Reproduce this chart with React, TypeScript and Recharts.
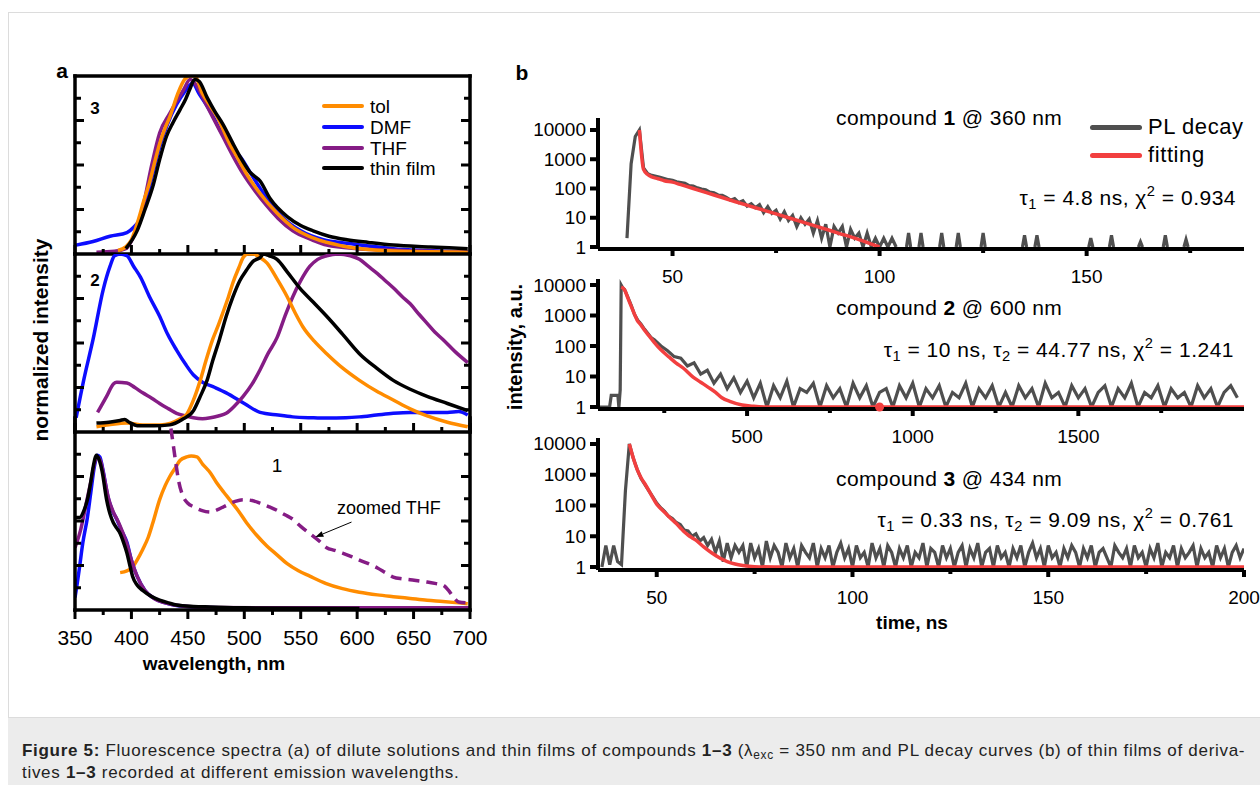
import React from "react";
import { LineChart, Line, XAxis, YAxis, ReferenceLine, ReferenceDot } from "recharts";

const FONT = '"Liberation Sans", Arial, Helvetica, sans-serif';
const ORANGE = "#ff8c00";
const BLUE = "#0d0dff";
const PURPLE = "#851c85";
const BLACK = "#000000";
const GRAY = "#4f4f4f";
const RED = "#f23f3f";

type Pair = [number, number];

// ---------- panel a: fluorescence spectra ----------
const wlTicks = [350, 375, 400, 425, 450, 475, 500, 525, 550, 575, 600, 625, 650, 675, 700];
const wlMajor = [350, 400, 450, 500, 550, 600, 650, 700];
const normTicks = [0.125, 0.25, 0.375, 0.5, 0.625, 0.75, 0.875];
const normMajor = [0.25, 0.5, 0.75];

// compound 3
const tol3: Pair[] = [[388,.02],[395,.04],[400,.08],[406,.19],[411,.30],[416,.40],[420,.50],[425,.62],[430,.71],[434,.77],[441,.90],[447,.98],[452,1.0],[456,1.0],[463,.9],[470,.83],[476,.77],[487,.62],[495,.53],[502,.45],[514,.34],[529,.23],[543,.15],[561,.09],[587,.045],[610,.025],[632,.017],[665,.012],[698,.01]];
const dmf3: Pair[] = [[351,.05],[366,.07],[381,.10],[396,.12],[402,.15],[407,.19],[412,.28],[419,.45],[425,.6],[432,.73],[440,.84],[447,.91],[452,.95],[454,.96],[460,.9],[470,.8],[480,.68],[490,.58],[496,.55],[505,.46],[514,.37],[523,.29],[535,.2],[550,.13],[570,.08],[591,.06],[610,.045],[632,.03],[660,.02],[698,.012]];
const thf3: Pair[] = [[369,.01],[385,.015],[395,.03],[402,.1],[410,.26],[418,.5],[425,.68],[434,.79],[446,.92],[452,.98],[456,.96],[467,.83],[481,.66],[490,.55],[499,.45],[510,.35],[520,.27],[530,.2],[543,.13],[560,.08],[573,.05],[600,.03],[640,.02],[698,.012]];
const film3: Pair[] = [[395,.03],[405,.13],[412,.25],[419,.38],[425,.53],[431,.66],[437,.74],[443,.81],[448,.87],[452,.93],[456,.98],[460,.97],[467,.88],[474,.80],[481,.73],[490,.62],[496,.55],[505,.46],[514,.41],[523,.31],[538,.21],[550,.16],[561,.13],[575,.1],[591,.08],[610,.065],[632,.05],[665,.04],[698,.03]];

// compound 2
const dmf2: Pair[] = [[351,.08],[358,.3],[366,.52],[375,.80],[381,.93],[385,.99],[390,1.0],[396,.99],[402,.93],[408,.87],[416,.76],[425,.65],[432,.55],[440,.46],[448,.38],[455,.32],[463,.28],[474,.25],[484,.22],[500,.16],[514,.11],[530,.095],[543,.085],[560,.08],[573,.078],[590,.08],[602,.085],[617,.095],[632,.105],[647,.11],[662,.11],[680,.11],[690,.115],[698,.095]];
const thf2: Pair[] = [[370,.11],[378,.20],[384,.27],[387,.28],[396,.275],[403,.25],[410,.22],[418,.19],[425,.16],[433,.13],[440,.105],[448,.09],[455,.08],[463,.075],[470,.08],[477,.09],[484,.105],[492,.15],[499,.2],[507,.27],[514,.35],[521,.44],[529,.53],[536,.65],[543,.76],[550,.85],[558,.93],[565,.97],[573,.99],[583,1.0],[594,.99],[602,.97],[610,.93],[618,.89],[625,.85],[632,.81],[640,.76],[647,.72],[655,.66],[662,.61],[669,.56],[676,.52],[687,.45],[698,.39]];
const tol2: Pair[] = [[369,.03],[380,.04],[396,.05],[410,.04],[425,.04],[435,.05],[442,.07],[449,.1],[455,.18],[461,.29],[466,.4],[472,.52],[477,.6],[481,.67],[486,.76],[490,.84],[495,.92],[499,.98],[503,1.0],[508,1.0],[514,.98],[520,.95],[529,.86],[538,.76],[545,.67],[552,.59],[562,.51],[573,.44],[587,.36],[602,.29],[617,.23],[632,.18],[647,.13],[662,.09],[680,.055],[698,.03]];
const film2: Pair[] = [[369,.05],[380,.055],[390,.065],[394,.07],[398,.055],[405,.035],[420,.035],[434,.04],[445,.07],[455,.12],[461,.2],[467,.29],[472,.4],[478,.52],[484,.65],[490,.76],[496,.85],[502,.91],[508,.96],[514,.98],[517,1.0],[522,.99],[529,.97],[538,.9],[549,.81],[561,.73],[573,.65],[587,.55],[602,.44],[617,.36],[632,.29],[647,.24],[662,.2],[680,.16],[698,.12]];

// compound 1
const film1: Pair[] = [[350,.52],[354,.52],[358,.56],[361,.62],[364,.72],[366,.80],[369,.87],[371,.85],[374,.78],[378,.62],[381,.54],[384,.49],[387,.46],[390,.43],[393,.38],[396,.32],[399,.24],[401,.19],[405,.14],[410,.11],[418,.075],[425,.056],[433,.04],[440,.028],[455,.02],[470,.017],[500,.012],[550,.01],[602,.008]];
const dmf1: Pair[] = [[350,.07],[352,.15],[354,.24],[357,.38],[361,.52],[364,.66],[367,.8],[370,.87],[372,.86],[375,.78],[379,.64],[383,.56],[387,.51],[391,.45],[396,.38],[400,.28],[405,.19],[412,.11],[419,.07],[430,.04],[440,.025],[460,.015],[500,.01],[600,.008],[700,.006]];
const thf1: Pair[] = [[350,.35],[355,.45],[360,.6],[364,.72],[368,.84],[370,.86],[373,.83],[376,.74],[380,.62],[384,.55],[388,.5],[392,.44],[396,.37],[400,.28],[405,.19],[412,.11],[420,.065],[430,.04],[445,.022],[470,.014],[520,.012],[600,.012],[650,.012],[700,.012]];
const tol1: Pair[] = [[390,.21],[396,.22],[401,.24],[405,.28],[410,.34],[415,.41],[419,.49],[425,.62],[430,.70],[434,.75],[439,.8],[443,.84],[449,.86],[453,.865],[458,.86],[463,.82],[470,.77],[476,.71],[482,.66],[487,.62],[495,.555],[502,.49],[511,.42],[520,.36],[529,.31],[538,.26],[548,.22],[558,.19],[572,.15],[587,.12],[602,.1],[618,.085],[632,.075],[647,.065],[662,.055],[676,.048],[690,.04],[698,.035]];
const thfZoom1: Pair[] = [[435,1.02],[437,.93],[439,.84],[442,.72],[446,.635],[450,.6],[455,.58],[462,.56],[470,.55],[477,.565],[485,.59],[492,.61],[499,.62],[507,.615],[514,.60],[522,.58],[529,.56],[536,.535],[543,.51],[550,.47],[558,.43],[566,.39],[573,.35],[580,.335],[587,.32],[595,.3],[602,.28],[610,.26],[618,.236],[625,.21],[632,.185],[640,.175],[647,.17],[655,.163],[662,.157],[670,.148],[676,.14],[681,.11],[685,.075],[690,.045],[698,.04]];
const zoomArrow: Pair[] = [[595, 0.494], [563, 0.41]];

// ---------- panel b: PL decay ----------
const decades = [1, 10, 100, 1000, 10000];

// compound 1 @ 360 nm
const pl1T = range(39, 104, 1);
const pl1V = [
  2, 700, 6000, 10000, 500, 320, 280, 260, 240, 220, 200,
  190, 170, 160, 150, 125, 120, 105, 95, 90, 75,
  72, 60, 58, 50, 40, 45, 33, 38, 25, 30,
  22, 28, 15, 24, 14, 18, 9, 16, 8, 12,
  5, 10, 6, 9, 3, 8, 2, 6, 1, 5,
  3, 5, 1, 4, 2, 3, 1, 3, 1, 2,
  1, 2, 1, 2, 1,
];
// isolated counts above the baseline after 105 ns
const pl1SpikeT = [107, 110, 115, 119, 125, 135, 138, 151, 156, 163, 169, 174];
const pl1SpikeV = [3, 3, 3, 3, 3, 2.5, 2.5, 2, 2.5, 1.5, 2.5, 1.8];
const fit1T = [42, 43, 44, 45, 46, 47, 48, 50, 52, 55, 60, 65, 70, 75, 80, 85, 90, 95, 100];
const fit1V = [10000, 450, 300, 250, 225, 205, 185, 165, 135, 100, 60, 36, 22, 13.5, 8.2, 5, 3, 1.8, 1];
const t1Ticks = [50, 75, 100, 125, 150, 175];
const t1Major = [50, 100, 150];

// compound 2 @ 600 nm
const pl2T = [50, 85, 90, 110, 113, 117, 120, 125, 130, 140, 150, 160, 170, 180, 190, 200, 210, 220, 240, 260, 280, 300, 320, 340, 360, 380, 400, 420, 440, 460, 480, 500, ...range(520, 1980, 20)];
const pl2V = [
  1, 1, 2.4, 2.4, 1, 3.6, 10000,
  8000, 7200, 4000, 2200, 1100, 700, 520, 360, 260, 190,
  160, 100, 70, 45, 40, 22, 28, 12, 16, 6,
  12, 4, 9, 3, 7,
  2, 6, 1, 5, 2, 7, 1, 4, 3, 6,
  1, 5, 2, 4, 1, 6, 2, 5, 1, 3,
  4, 1, 5, 2, 6, 1, 4, 2, 5, 1,
  3, 2, 6, 1, 4, 2, 5, 1, 3, 1,
  5, 2, 4, 1, 6, 2, 3, 1, 5, 2,
  4, 1, 3, 5, 1, 4, 2, 6, 1, 3,
  2, 5, 1, 4, 2, 3, 1, 5, 2, 4,
  1, 3, 5, 2,
];
const fit2T = [120, 130, 140, 146, 155, 168, 180, 190, 205, 219, 240, 265, 285, 307, 337, 360, 382, 405, 424, 450, 485, 520, 560, 2000];
const fit2V = [8500, 7000, 3800, 2600, 1500, 710, 480, 335, 210, 135, 75, 43, 28, 19, 9.6, 6.5, 4.5, 3, 2, 1.5, 1.16, 1.05, 1, 1];
const fit2Mark = { t: 900, v: 1 };
const t2Ticks = [250, 500, 750, 1000, 1250, 1500, 1750];
const t2Major = [500, 1000, 1500];

// compound 3 @ 434 nm
const pl3T = range(36, 200, 1);
const pl3V = [
  1, 5, 1.2, 5, 1.5, 1.2, 300,
  10000, 3500, 1500, 750, 480, 300, 190, 120, 85, 65,
  45, 38, 28, 24, 16, 15, 10, 12, 7, 9,
  5, 8, 3, 7, 1.5, 6, 2, 5,
  3, 5, 1, 6, 2, 4, 1, 7, 2, 5,
  3, 1, 6, 2, 4, 1, 5, 3, 2, 6,
  1, 4, 2, 5, 1, 3, 6, 2, 4, 1,
  5, 2, 3, 1, 6, 2, 4, 1, 5, 3,
  1, 4, 2, 5, 1, 3, 2, 6, 1, 4,
  3, 1, 5, 2, 4, 1, 3, 5, 1, 4,
  2, 6, 1, 3, 4, 1, 5, 2, 3, 1,
  4, 2, 5, 1, 3, 6, 2, 4, 1, 5,
  2, 3, 1, 4, 2, 5, 3, 1, 4, 2,
  5, 1, 3, 4, 2, 1, 5, 3, 2, 4,
  1, 5, 2, 3, 1, 4, 2, 6, 1, 3,
  2, 5, 1, 4, 2, 3, 5, 1, 4, 2,
  3, 1, 5, 2, 4, 1, 3, 5, 2, 4,
];
const fit3T = [43, 44, 45, 46, 47, 48, 49, 50, 51, 52, 53, 54, 55, 56, 57, 58, 59, 60, 62, 64, 66, 68, 70, 72, 75, 80, 200];
const fit3V = [10000, 3500, 1500, 800, 500, 305, 180, 110, 80, 60, 45, 34, 26, 19, 14, 11, 9, 7.5, 4.5, 2.9, 2, 1.5, 1.25, 1.12, 1.03, 1, 1];
const t3Ticks = [50, 75, 100, 125, 150, 175, 200];
const t3Major = [50, 100, 150, 200];

function range(a: number, b: number, s: number) {
  const out: number[] = [];
  for (let v = a; v <= b + 1e-9; v += s) out.push(v);
  return out;
}
type Pt = { x: number; y: number | null };
const toPts = (p: Pair[]) => p.map(([x, y]) => ({ x, y }));
const zip = (xs: number[], ys: (number | null)[]): Pt[] =>
  xs.slice(0, Math.min(xs.length, ys.length)).map((x, i) => ({ x, y: ys[i] }));
// narrow spikes rising from the 1-count baseline, separated by gaps
const spikes = (ts: number[], vs: number[]): Pt[] =>
  ts.flatMap((t, i) => [
    { x: t - 0.6, y: null },
    { x: t - 0.5, y: 1 },
    { x: t, y: vs[i] },
    { x: t + 0.5, y: 1 },
  ]);

// ---------- tick drawing ----------
type Side = "top" | "bottom" | "left" | "right";
interface TickStyle {
  side: Side;
  inward: boolean;
  major: number[];
  majorLen: number;
  minorLen: number;
  width: number;
  label?: boolean;
  gap?: number;
  fontSize?: number;
}
function tickRenderer(s: TickStyle) {
  return (props: any) => {
    const { x, y, payload } = props;
    const v = payload.value as number;
    const isMajor = s.major.some((m) => Math.abs(m - v) < 1e-9);
    const len = isMajor ? s.majorLen : s.minorLen;
    const d = s.inward ? -1 : 1;
    let x2 = x;
    let y2 = y;
    if (s.side === "top") y2 = y - d * len;
    if (s.side === "bottom") y2 = y + d * len;
    if (s.side === "left") x2 = x - d * len;
    if (s.side === "right") x2 = x + d * len;
    let text = null;
    if (s.label && isMajor) {
      const g = s.gap ?? 0;
      const common = { fontFamily: FONT, fontSize: s.fontSize ?? 18, fill: "#000", dominantBaseline: "central" as const };
      if (s.side === "bottom") text = <text x={x} y={y + g} textAnchor="middle" {...common}>{v}</text>;
      if (s.side === "left") text = <text x={x - g} y={y} textAnchor="end" {...common}>{v}</text>;
    }
    return (
      <g>
        <line x1={x} y1={y} x2={x2} y2={y2} stroke="#000" strokeWidth={s.width} />
        {text}
      </g>
    );
  };
}

const frameLine = { stroke: "#000", strokeWidth: 3.5, strokeLinecap: "square" as const };
const aTopTick = tickRenderer({ side: "top", inward: true, major: wlMajor, majorLen: 9, minorLen: 5, width: 3 });
const aBotIn = tickRenderer({ side: "bottom", inward: true, major: wlMajor, majorLen: 9, minorLen: 5, width: 3 });
const aBotOut = tickRenderer({ side: "bottom", inward: false, major: wlMajor, majorLen: 9, minorLen: 5, width: 3, label: true, gap: 27, fontSize: 21 });
const aLeftTick = tickRenderer({ side: "left", inward: true, major: normMajor, majorLen: 9, minorLen: 6, width: 3 });
const aRightTick = tickRenderer({ side: "right", inward: true, major: normMajor, majorLen: 9, minorLen: 6, width: 3 });

// ---------- panel a geometry ----------
const A_LEFT = 75;
const A_W = 395;
const A_PH = 178;

interface SpecLine { pts: Pair[]; color: string; dash?: string }

function SpectrumPanel(props: {
  plotTop: number;
  plotH: number;
  lines: SpecLine[];
  top?: boolean;
  last?: boolean;
  children?: React.ReactNode;
}) {
  const { plotTop, plotH, lines, top, last, children } = props;
  const padL = 40, padR = 20, padT = 20, padB = last ? 50 : 20;
  const yMax = plotH / A_PH;
  return (
    <div style={{ position: "absolute", left: A_LEFT - padL, top: plotTop - padT }}>
      <LineChart width={A_W + padL + padR} height={plotH + padT + padB} margin={{ top: padT, right: padR, bottom: padB, left: padL }}>
        <XAxis xAxisId="b" type="number" dataKey="x" domain={[350, 700]} allowDataOverflow ticks={wlTicks} interval={0}
          mirror tickSize={0} tickMargin={0} tickLine={false} tick={last ? aBotOut : aBotIn} axisLine={frameLine} />
        {top && (
          <XAxis xAxisId="t" orientation="top" type="number" domain={[350, 700]} allowDataOverflow ticks={wlTicks} interval={0}
            mirror tickSize={0} tickMargin={0} tickLine={false} tick={aTopTick} axisLine={frameLine} />
        )}
        <YAxis yAxisId="l" type="number" domain={[0, yMax]} allowDataOverflow ticks={normTicks} interval={0}
          mirror tickSize={0} tickMargin={0} tickLine={false} tick={aLeftTick} axisLine={frameLine} />
        <YAxis yAxisId="r" orientation="right" type="number" domain={[0, yMax]} allowDataOverflow ticks={normTicks} interval={0}
          mirror tickSize={0} tickMargin={0} tickLine={false} tick={aRightTick} axisLine={frameLine} />
        {lines.map((l, i) => (
          <Line key={i} xAxisId="b" yAxisId="l" data={toPts(l.pts)} dataKey="y" type="monotone" stroke={l.color}
            strokeWidth={3.5} strokeDasharray={l.dash} dot={false} isAnimationActive={false} />
        ))}
        {children}
      </LineChart>
    </div>
  );
}

const arrowShape = (p: any) => {
  const { x1, y1, x2, y2 } = p;
  const ang = Math.atan2(y2 - y1, x2 - x1);
  const L = 8, W = 3;
  const bx = x2 - L * Math.cos(ang);
  const by = y2 - L * Math.sin(ang);
  const px = -Math.sin(ang) * W;
  const py = Math.cos(ang) * W;
  return (
    <g>
      <line x1={x1} y1={y1} x2={bx} y2={by} stroke="#000" strokeWidth={1} />
      <polygon points={`${x2},${y2} ${bx + px},${by + py} ${bx - px},${by - py}`} fill="#000" />
    </g>
  );
};

// ---------- panel b geometry ----------
const B_LEFT = 598;
const B_W = 646;
const bLeftTick = tickRenderer({ side: "left", inward: false, major: decades, majorLen: 8, minorLen: 8, width: 4, label: true, gap: 12, fontSize: 19 });

function DecayPanel(props: {
  plotTop: number;
  plotH: number;
  xDomain: [number, number];
  yDomain: [number, number];
  xTicks: number[];
  xMajor: number[];
  gray: Pt[];
  fit: Pt[];
  children?: React.ReactNode;
}) {
  const { plotTop, plotH, xDomain, yDomain, xTicks, xMajor, gray, fit, children } = props;
  const padL = 85, padR = 20, padT = 15, padB = 45;
  const botTick = tickRenderer({ side: "bottom", inward: false, major: xMajor, majorLen: 7, minorLen: 4, width: 4, label: true, gap: 27, fontSize: 19 });
  return (
    <div style={{ position: "absolute", left: B_LEFT - padL, top: plotTop - padT }}>
      <LineChart width={B_W + padL + padR} height={plotH + padT + padB} margin={{ top: padT, right: padR, bottom: padB, left: padL }}>
        <XAxis xAxisId="b" type="number" dataKey="x" domain={xDomain} allowDataOverflow ticks={xTicks} interval={0}
          mirror tickSize={0} tickMargin={0} tickLine={false} tick={botTick} axisLine={{ stroke: "#000", strokeWidth: 4 }} />
        <YAxis yAxisId="l" type="number" scale="log" domain={yDomain} allowDataOverflow ticks={decades} interval={0}
          mirror tickSize={0} tickMargin={0} tickLine={false} tick={bLeftTick} axisLine={{ stroke: "#000", strokeWidth: 4 }} />
        <Line xAxisId="b" yAxisId="l" data={gray} dataKey="y" type="linear" stroke={GRAY} strokeWidth={3.2} dot={false} isAnimationActive={false} />
        <Line xAxisId="b" yAxisId="l" data={fit} dataKey="y" type="monotone" stroke={RED} strokeWidth={3.5} dot={false} isAnimationActive={false} />
        {children}
      </LineChart>
    </div>
  );
}

// ---------- text helpers ----------
function T(props: { x: number; y: number; anchor?: "start" | "middle" | "end"; size?: number; bold?: boolean; rotate?: boolean; ls?: number; color?: string; children: React.ReactNode }) {
  const { x, y, anchor = "start", size = 19, bold = false, rotate = false, ls = 0, color = "#000", children } = props;
  const tx = anchor === "middle" ? "-50%" : anchor === "end" ? "-100%" : "0";
  return (
    <div style={{
      position: "absolute", left: x, top: y, whiteSpace: "nowrap", lineHeight: 1, fontFamily: FONT,
      fontSize: size, fontWeight: bold ? 700 : 400, color, letterSpacing: ls,
      transform: `translate(${tx}, -50%)${rotate ? " rotate(-90deg)" : ""}`,
    }}>{children}</div>
  );
}
const sub = (s: string) => <sub style={{ fontSize: "0.7em", lineHeight: 0, verticalAlign: "-0.3em" }}>{s}</sub>;
const sup = (s: string) => <sup style={{ fontSize: "0.7em", lineHeight: 0, verticalAlign: "0.55em" }}>{s}</sup>;

function LegendRow({ x, y, color, w, label, lw, size, ls = 0 }: { x: number; y: number; color: string; w: number; label: string; lw: number; size: number; ls?: number }) {
  return (
    <>
      <div style={{ position: "absolute", left: x, top: y - lw / 2, width: w, height: lw, background: color, borderRadius: lw / 2 }} />
      <T x={x + w + 6} y={y} size={size} ls={ls}>{label}</T>
    </>
  );
}

export default function App() {
  const gray1: Pt[] = [...zip(pl1T, pl1V), ...spikes(pl1SpikeT, pl1SpikeV)];
  return (
    <div style={{ position: "absolute", left: 0, top: 0, width: 1260, height: 785, background: "#fff", overflow: "hidden", fontFamily: FONT }}>
      <div style={{ position: "absolute", left: 8, top: 12, width: 1260, height: 706, border: "1px solid #dcdcdc", boxSizing: "border-box" }} />

      {/* panel a */}
      <SpectrumPanel plotTop={76} plotH={A_PH} top lines={[
        { pts: dmf3, color: BLUE }, { pts: thf3, color: PURPLE }, { pts: tol3, color: ORANGE }, { pts: film3, color: BLACK },
      ]} />
      <SpectrumPanel plotTop={254} plotH={A_PH} lines={[
        { pts: dmf2, color: BLUE }, { pts: thf2, color: PURPLE }, { pts: tol2, color: ORANGE }, { pts: film2, color: BLACK },
      ]} />
      <SpectrumPanel plotTop={418} plotH={192} last lines={[
        { pts: tol1, color: ORANGE }, { pts: dmf1, color: BLUE }, { pts: thf1, color: PURPLE }, { pts: film1, color: BLACK },
        { pts: thfZoom1, color: PURPLE, dash: "11 7" },
      ]}>
        <ReferenceLine xAxisId="b" yAxisId="l" segment={toPts(zoomArrow)} shape={arrowShape} ifOverflow="visible" />
      </SpectrumPanel>

      <T x={62} y={70} size={21} bold anchor="middle">a</T>
      <T x={95} y={108} size={17} bold anchor="middle">3</T>
      <T x={95} y={280} size={17} bold anchor="middle">2</T>
      <T x={277} y={465} size={19} anchor="middle">1</T>
      <LegendRow x={322} y={106} w={42} lw={4} size={19} color={ORANGE} label="tol" />
      <LegendRow x={322} y={127} w={42} lw={4} size={19} color={BLUE} label="DMF" />
      <LegendRow x={322} y={148} w={42} lw={4} size={19} color={PURPLE} label="THF" />
      <LegendRow x={322} y={168} w={42} lw={4} size={19} color={BLACK} label="thin film" />
      <T x={337} y={508} size={18}>zoomed THF</T>
      <T x={40} y={340} size={21} bold anchor="middle" rotate>normalized intensity</T>
      <T x={214} y={663} size={19} bold anchor="middle">wavelength, nm</T>

      {/* panel b */}
      <DecayPanel plotTop={118} plotH={131} xDomain={[32, 188]} yDomain={[0.855, 25700]} xTicks={t1Ticks} xMajor={t1Major}
        gray={gray1} fit={zip(fit1T, fit1V)} />
      <DecayPanel plotTop={279} plotH={130} xDomain={[50, 2000]} yDomain={[0.86, 15740]} xTicks={t2Ticks} xMajor={t2Major}
        gray={zip(pl2T, pl2V)} fit={zip(fit2T, fit2V)}>
        <ReferenceDot xAxisId="b" yAxisId="l" x={fit2Mark.t} y={fit2Mark.v} r={4.5} fill={RED} stroke="none" />
      </DecayPanel>
      <DecayPanel plotTop={438} plotH={132} xDomain={[35, 200]} yDomain={[0.8, 15660]} xTicks={t3Ticks} xMajor={t3Major}
        gray={zip(pl3T, pl3V)} fit={zip(fit3T, fit3V)} />

      <T x={522} y={72} size={21} bold anchor="middle">b</T>
      <T x={836} y={117} size={21} ls={0.4}>compound <b>1</b> @ 360 nm</T>
      <T x={1236} y={197} size={21} ls={0.5} anchor="end">τ{sub("1")} = 4.8 ns, χ{sup("2")} = 0.934</T>
      <T x={836} y={307} size={21} ls={0.4}>compound <b>2</b> @ 600 nm</T>
      <T x={1234} y={349} size={21} ls={0.5} anchor="end">τ{sub("1")} = 10 ns, τ{sub("2")} = 44.77 ns, χ{sup("2")} = 1.241</T>
      <T x={836} y={478} size={21} ls={0.4}>compound <b>3</b> @ 434 nm</T>
      <T x={1234} y={519} size={21} ls={0.5} anchor="end">τ{sub("1")} = 0.33 ns, τ{sub("2")} = 9.09 ns, χ{sup("2")} = 0.761</T>
      <LegendRow x={1090} y={127} w={52} lw={5} size={22} ls={0.6} color={GRAY} label="PL decay" />
      <LegendRow x={1090} y={155} w={52} lw={5} size={22} ls={0.6} color={RED} label="fitting" />
      <T x={515} y={347} size={20} bold anchor="middle" rotate>intensity, a.u.</T>
      <T x={912} y={622} size={19} bold anchor="middle">time, ns</T>

      {/* caption */}
      <div style={{ position: "absolute", left: 8, top: 718, width: 1252, height: 67, background: "#ececec" }} />
      <T x={22} y={750} size={17} ls={0.7} color="#222"><b>Figure 5:</b> Fluorescence spectra (a) of dilute solutions and thin films of compounds <b>1–3</b> (λ{sub("exc")} = 350 nm and PL decay curves (b) of thin films of deriva-</T>
      <T x={22} y={772} size={17} ls={0.7} color="#222">tives <b>1–3</b> recorded at different emission wavelengths.</T>
    </div>
  );
}
